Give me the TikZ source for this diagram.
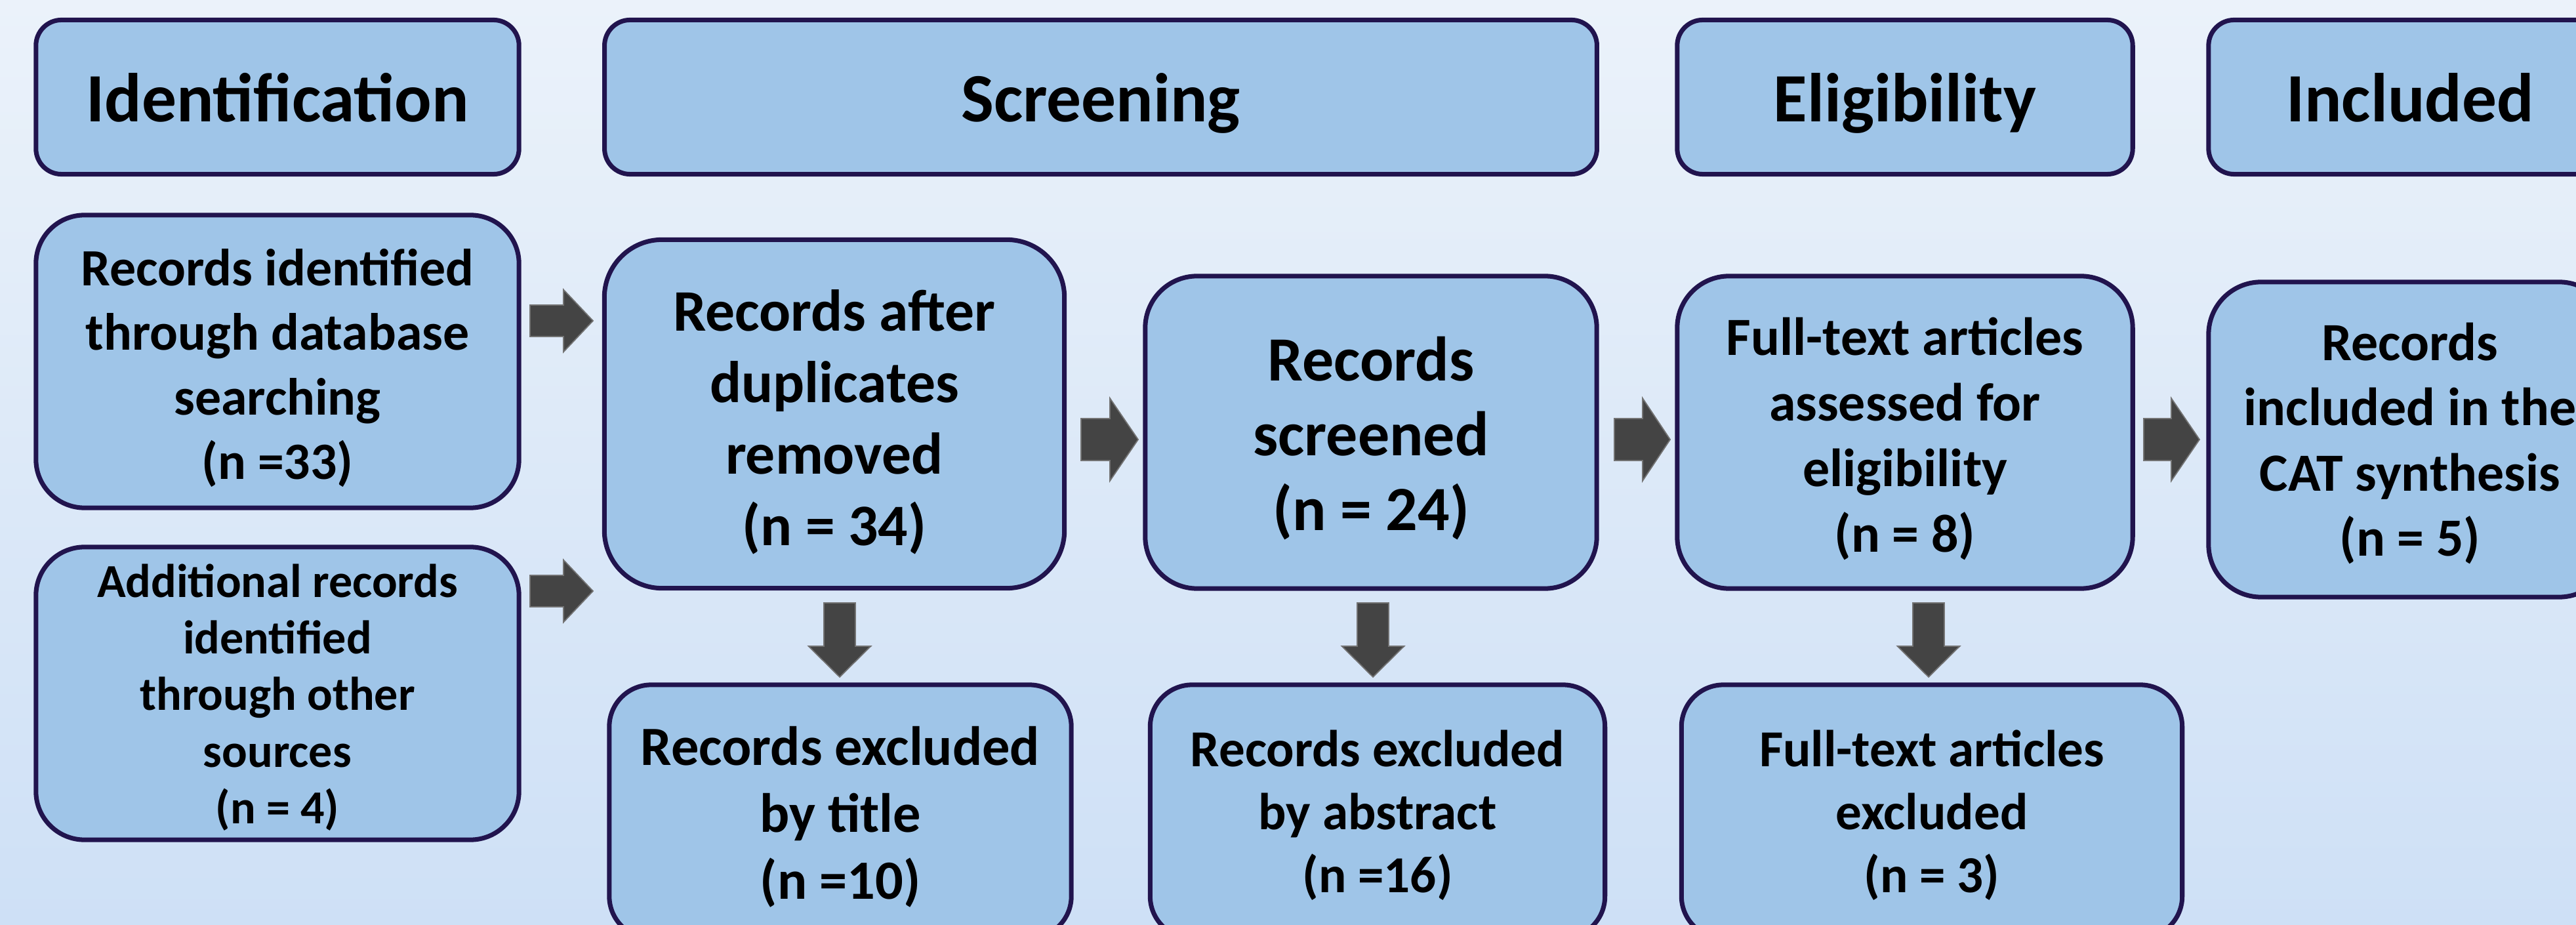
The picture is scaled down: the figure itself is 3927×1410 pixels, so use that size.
\documentclass[tikz,border=0pt]{standalone}
\usepackage{fontspec}
\setmainfont{Carlito}
\definecolor{bgtop}{RGB}{235,242,250}
\definecolor{bgbot}{RGB}{206,224,246}
\definecolor{boxc}{RGB}{159,197,232}
\definecolor{bordc}{RGB}{33,20,78}
\definecolor{arrc}{RGB}{68,68,68}
\definecolor{arrline}{RGB}{115,115,115}
\tikzset{
  box/.style={draw=bordc, fill=boxc, line width=2pt, inner sep=0pt, align=center},
  hdr/.style={box, font=\bfseries\fontsize{30}{36}\selectfont, text depth=0pt, minimum height=2.35cm, rounded corners=0.39cm},
  txt/.style={inner sep=0pt, align=center},
  fsz/.style 2 args={font=\bfseries\fontsize{#1}{#2}\selectfont},
  blk/.style={fill=arrc, draw=arrline, line width=0.5pt, line join=miter}
}
\newcommand\blkR[6]{% tail x, centre y, length, shaft half, head half, head length
  \filldraw[blk] (#1,{#2-#4}) -- ({#1+#3-#6},{#2-#4}) -- ({#1+#3-#6},{#2-#5}) -- ({#1+#3},#2)
    -- ({#1+#3-#6},{#2+#5}) -- ({#1+#3-#6},{#2+#4}) -- (#1,{#2+#4}) -- cycle;}
\newcommand\blkD[6]{% centre x, tail y, length, shaft half, head half, head length
  \filldraw[blk] ({#1-#4},#2) -- ({#1+#4},#2) -- ({#1+#4},{#2+#3-#6}) -- ({#1+#5},{#2+#3-#6})
    -- (#1,{#2+#3}) -- ({#1-#5},{#2+#3-#6}) -- ({#1-#4},{#2+#3-#6}) -- cycle;}
\begin{document}
\begin{tikzpicture}[x=0.01cm,y=-0.01cm]
\useasboundingbox (0,0) rectangle (3927,1410);
\clip (0,0) rectangle (3927,1410);
\shade[top color=bgtop,bottom color=bgbot] (0,0) rectangle (3927,1410);

% headers
\node[hdr, minimum width=7.36cm] (hId) at (423,148) {Identification};
\node[hdr, minimum width=15.12cm] (hScr) at (1678,148) {Screening};
\node[hdr, minimum width=6.94cm] (hElig) at (2904,148) {Eligibility};
\node[hdr, minimum width=6.14cm] (hInc) at (3674,148) {Included};

% row 2
\node[box, minimum width=7.36cm, minimum height=4.46cm, rounded corners=0.74cm] (db) at (423,551) {};
\node[txt, fsz={22.7}{27.9}] (dbT) at ([yshift=-0.10cm]db.center)
  {Records identified\\through database\\searching\\(n =33)};
\node[box, minimum width=7.36cm, minimum height=4.46cm, rounded corners=0.74cm] (add) at (423,1057) {};
\node[txt, fsz={20.5}{24.5}] (addT) at ([yshift=-0.06cm]add.center)
  {Additional records\\identified\\through other\\sources\\(n = 4)};
\node[box, minimum width=7.01cm, minimum height=5.31cm, rounded corners=0.88cm] (dup) at (1272,631) {};
\node[txt, fsz={25.5}{31}] (dupT) at ([yshift=-0.12cm]dup.center)
  {Records after\\duplicates\\removed\\(n = 34)};
\node[box, minimum width=6.88cm, minimum height=4.76cm, rounded corners=0.79cm] (scr) at (2090,659) {};
\node[txt, fsz={27.3}{32.4}] (scrT) at ([yshift=-0.09cm]scr.center)
  {Records\\screened\\(n = 24)};
\node[box, minimum width=6.94cm, minimum height=4.76cm, rounded corners=0.79cm] (full) at (2904,659) {};
\node[txt, fsz={23.3}{28.4}] (fullT) at ([yshift=-0.10cm]full.center)
  {Full-text articles\\assessed for\\eligibility\\(n = 8)};
\node[box, minimum width=6.14cm, minimum height=4.80cm, rounded corners=0.80cm] (inc) at (3674,670) {};
\node[txt, fsz={23.3}{28.2}] (incT) at ([yshift=-0.06cm]inc.center)
  {Records\\included in the\\CAT synthesis\\(n = 5)};

% row 3
\node[box, minimum width=7.04cm, minimum height=3.86cm, rounded corners=0.64cm] (title) at (1281,1237) {};
\node[txt, fsz={24}{29}] (titleT) at ([yshift=-0.08cm]title.center)
  {Records excluded\\by title\\(n =10)};
\node[box, minimum width=6.93cm, minimum height=3.86cm, rounded corners=0.64cm] (abs) at (2100,1237) {};
\node[txt, fsz={22.5}{27.3}] (absT) at ([yshift=-0.06cm]abs.center)
  {Records excluded\\by abstract\\(n =16)};
\node[box, minimum width=7.63cm, minimum height=3.86cm, rounded corners=0.64cm] (fexc) at (2945,1237) {};
\node[txt, fsz={22.5}{27.3}] (fexcT) at ([yshift=-0.06cm]fexc.center)
  {Full-text articles\\excluded\\(n = 3)};

% block arrows
\blkR{808}{489}{96}{24}{47.5}{45}
\blkR{808}{901}{96}{24}{47.5}{45}
\blkR{1648}{670}{87}{32}{63}{43}
\blkR{2461}{670}{85}{32}{63}{42}
\blkR{3268}{670}{85}{32}{63}{43}
\blkD{1280}{919}{113}{24}{47.5}{47}
\blkD{2093}{919}{113}{24}{47.5}{47}
\blkD{2940}{919}{113}{24}{47.5}{47}
\end{tikzpicture}
\end{document}
